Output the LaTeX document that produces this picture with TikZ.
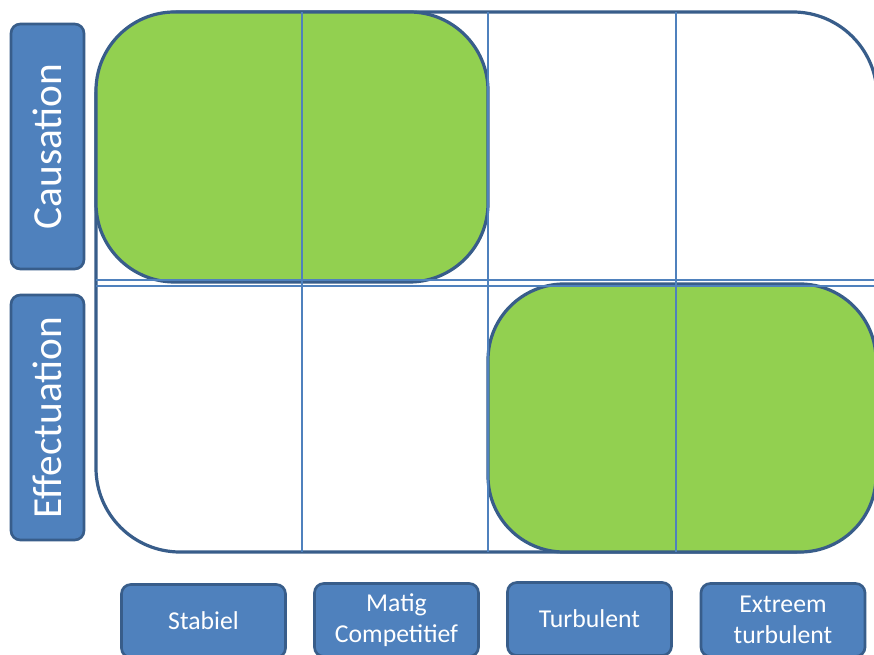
\documentclass[tikz,border=0pt]{standalone}
\usepackage{fontspec}
\setmainfont{Carlito}
\definecolor{dk}{HTML}{385D8A}
\definecolor{bl}{HTML}{4F81BD}
\definecolor{gr}{HTML}{92D050}
\tikzset{
  outl/.style={draw=dk, line width=2.4pt},
  gridln/.style={draw=bl, line width=1.4pt},
  lbl/.style={draw=dk, fill=bl, line width=2pt, rounded corners=7pt, text=white, inner sep=0pt, align=center},
  sidelbl/.style={lbl, rotate=90, minimum width=183.75pt, minimum height=54.75pt, font=\fontsize{31}{37}\selectfont},
  botlbl/.style={lbl, minimum width=123pt, minimum height=54.75pt, font=\fontsize{19.3}{23.5}\selectfont},
}
\begin{document}
\begin{tikzpicture}[x=0.75pt,y=-0.75pt]
\useasboundingbox (0,0) rectangle (874,655);
\clip (0,0) rectangle (874,655);
\fill[white] (0,0) rectangle (874,655);
% big frame
\draw[outl, fill=white, rounded corners=63pt] (96,12) rectangle (877,552);
% green areas
\draw[outl, fill=gr, rounded corners=59pt] (96,12) rectangle (488,282);
\draw[outl, fill=gr, rounded corners=57pt] (488,284) rectangle (876,552);
% grid lines
\draw[gridln] (302,12) -- (302,552);
\draw[gridln] (488,12) -- (488,552);
\draw[gridln] (676,12) -- (676,552);
\draw[gridln] (96,280) -- (877,280);
\draw[gridln] (96,286) -- (877,286);
% side labels
\node[sidelbl] (causation) at (47.5,146.5) {Causation};
\node[sidelbl] (effectuation) at (47.5,417.5) {Effectuation};
% bottom labels
\node[botlbl] (stabiel) at (203.5,621) {Stabiel};
\node[botlbl] (matig) at (396.5,620) {Matig\\Competitief};
\node[botlbl] (turbulent) at (589.5,619) {Turbulent};
\node[botlbl] (extreem) at (783,620) {Extreem\\turbulent};
\end{tikzpicture}
\end{document}
